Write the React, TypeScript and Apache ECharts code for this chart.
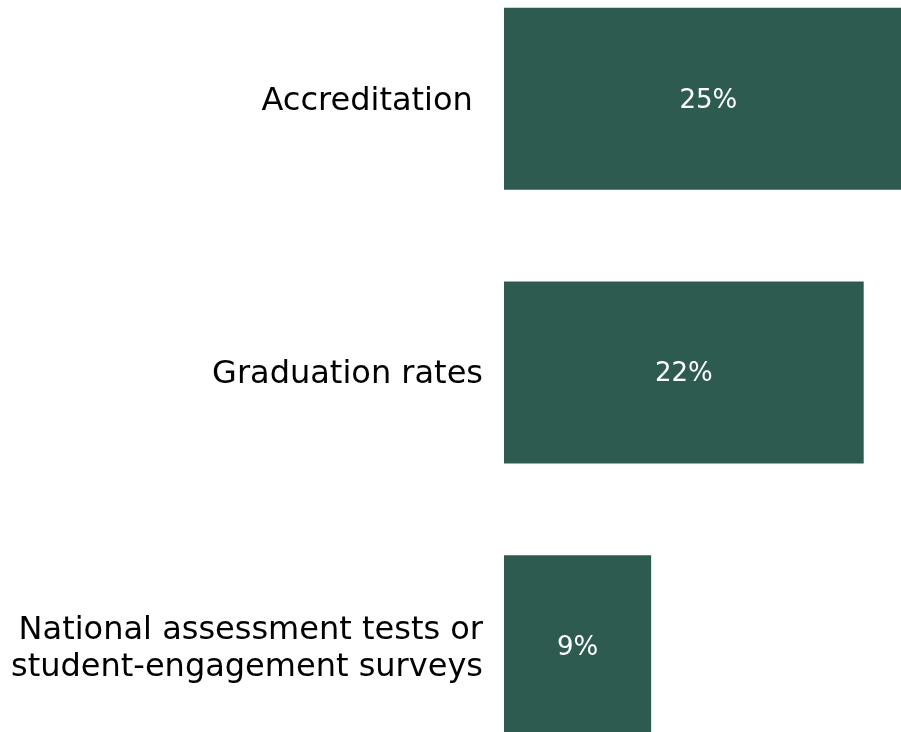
import React, { useEffect, useRef } from "react";
import * as echarts from "echarts";

const categories = [
  "Accreditation ",
  "Graduation rates",
  "National assessment tests or\nstudent-engagement surveys",
];
const values = [25, 22, 9];

export default function App() {
  const ref = useRef<HTMLDivElement>(null);
  useEffect(() => {
    if (!ref.current) return;
    const chart = echarts.init(ref.current, null, { renderer: "svg" });
    chart.setOption({
      animation: false,
      grid: {
        left: 504,
        right: -11.75,
        top: -38.2,
        bottom: -51,
        containLabel: false,
        outerBoundsMode: "none",
      },
      xAxis: {
        type: "value",
        min: 0,
        max: 25,
        show: false,
      },
      yAxis: {
        type: "category",
        inverse: true,
        data: categories,
        axisLine: { show: false },
        axisTick: { show: false },
        splitLine: { show: false },
        axisLabel: {
          margin: 21,
          fontSize: 32,
          lineHeight: 37,
          fontFamily: "DejaVu Sans",
          color: "#000000",
          align: "right",
        },
      },
      series: [
        {
          type: "bar",
          data: values,
          barWidth: 182,
          clip: false,
          itemStyle: { color: "#2E5B50" },
          label: {
            show: true,
            position: "inside",
            formatter: "{c}%",
            color: "#ffffff",
            fontSize: 26,
            fontFamily: "DejaVu Sans",
          },
        },
      ],
    });
    return () => chart.dispose();
  }, []);
  return (
    <div
      ref={ref}
      style={{ position: "fixed", left: 0, top: 0, width: 901, height: 732 }}
    />
  );
}
